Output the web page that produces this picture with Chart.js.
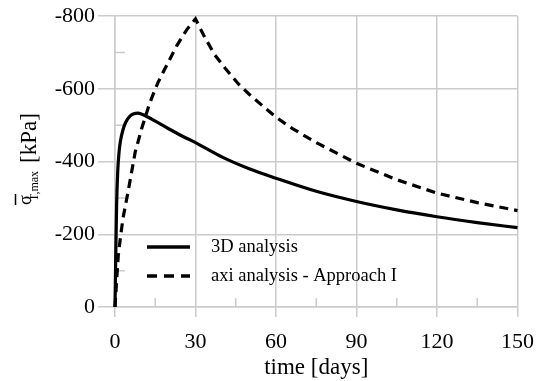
<!DOCTYPE html>
<html>
<head>
<meta charset="utf-8">
<script src="https://cdn.jsdelivr.net/npm/chart.js@4/dist/chart.umd.min.js"></script>
<style>
html,body{margin:0;padding:0;background:#fff;}
#wrap{width:544px;height:381px;position:relative;}
</style>
</head>
<body>
<div id="wrap"><canvas id="c" width="544" height="381"></canvas></div>
<script>
// ---- data ----
const time3D   = [0, 0.3, 0.6, 1.0, 1.5, 2, 3, 4, 5.5, 7, 8.5, 10, 12, 15, 20, 25, 30, 40, 50, 60, 75, 90, 105, 120, 135, 150];
const sigma3D  = [0, -150, -280, -370, -425, -455, -488, -508, -524, -531, -533, -530, -523, -511, -490, -470, -452, -412, -380, -354, -318, -290, -267, -248, -232, -218];
const timeAxi  = [0, 0.5, 1.2, 2, 3, 5, 7.5, 10, 13, 16, 20, 23, 26.7, 30, 33, 37, 41, 46, 50, 55, 60, 66, 75, 90, 105, 120, 135, 150];
const sigmaAxi = [0, -60, -140, -190, -245, -322, -425, -492, -562, -617, -675, -718, -762, -792, -748, -695, -657, -613, -585, -553, -522, -491, -452, -395, -350, -313, -287, -265];
const seriesLabels = ['3D analysis', 'axi analysis - Approach I'];
const xTicks = [0, 30, 60, 90, 120, 150];
const xMinorTicks = [15, 45, 75, 105, 135];
const yTicks = [0, -200, -400, -600, -800];
const yMinorTicks = [-100, -300, -500, -700];
const xTitle = 'time [days]';

const SERIF = '"Liberation Serif", "Times New Roman", serif';
const GRID = '#cbcbcb';

function pts(xs, ys){ return xs.map((x,i)=>({x:x, y:ys[i]})); }

const extras = {
  id: 'extras',
  beforeDatasetsDraw(chart){
    const ctx = chart.ctx, xs = chart.scales.x, ys = chart.scales.y;
    const a = chart.chartArea;
    ctx.save();
    ctx.strokeStyle = GRID;
    ctx.lineWidth = 1.5;
    ctx.beginPath();
    xMinorTicks.forEach(v=>{ const px = xs.getPixelForValue(v); ctx.moveTo(px, a.bottom); ctx.lineTo(px, a.bottom-9); });
    yMinorTicks.forEach(v=>{ const py = ys.getPixelForValue(v); ctx.moveTo(a.left, py); ctx.lineTo(a.left+10, py); });
    ctx.stroke();
    ctx.restore();
  },
  afterDraw(chart){
    const ctx = chart.ctx;
    ctx.save();
    // legend
    ctx.strokeStyle = '#000';
    ctx.lineWidth = 3.3;
    ctx.lineCap = 'butt';
    ctx.beginPath(); ctx.moveTo(147, 247); ctx.lineTo(190, 247); ctx.stroke();
    ctx.setLineDash([10, 7]);
    ctx.beginPath(); ctx.moveTo(147, 276); ctx.lineTo(190, 276); ctx.stroke();
    ctx.setLineDash([]);
    ctx.fillStyle = '#000';
    ctx.font = '18.5px ' + SERIF;
    ctx.textBaseline = 'middle';
    ctx.textAlign = 'left';
    ctx.fillText(seriesLabels[0], 211, 247);
    ctx.fillText(seriesLabels[1], 211, 276);
    const a = chart.chartArea;
    // x axis title
    ctx.textAlign = 'center';
    ctx.font = '23px ' + SERIF;
    ctx.fillText(xTitle, (a.left + a.right) / 2, 368);
    // y axis title (rotated)
    ctx.textAlign = 'left';
    ctx.rotate(-Math.PI/2);
    ctx.textBaseline = 'alphabetic';
    ctx.font = '18px ' + SERIF;
    ctx.fillText('σ', -205, 31);
    ctx.font = '12px ' + SERIF;
    ctx.fillText('T,max', -201, 38);
    ctx.font = '23px ' + SERIF;
    ctx.fillText('[kPa]', -163, 36);
    ctx.lineWidth = 1.5;
    ctx.beginPath(); ctx.moveTo(-205, 15.5); ctx.lineTo(-194, 15.5); ctx.stroke();
    ctx.restore();
  }
};

new Chart(document.getElementById('c'), {
  type: 'line',
  data: {
    datasets: [
      { label: seriesLabels[0], data: pts(time3D, sigma3D), borderColor: '#000', backgroundColor: '#000',
        borderWidth: 3.2, pointRadius: 0, cubicInterpolationMode: 'monotone', fill: false, clip: false },
      { label: seriesLabels[1], data: pts(timeAxi, sigmaAxi), borderColor: '#000', backgroundColor: '#000',
        borderWidth: 3.2, borderDash: [9, 6], pointRadius: 0, tension: 0, fill: false, clip: false }
    ]
  },
  options: {
    responsive: false,
    animation: false,
    events: [],
    layout: { padding: { top: 16, right: 26.5, bottom: 0, left: 0 } },
    plugins: { legend: { display: false }, tooltip: { enabled: false } },
    scales: {
      x: {
        type: 'linear', min: 0, max: 150,
        afterFit(s){ s.height = 74; s.paddingLeft = 0; s.paddingRight = 0; },
        afterBuildTicks(s){ s.ticks = xTicks.map(v=>({value:v})); },
        ticks: { color: '#000', font: { family: SERIF, size: 22 }, padding: 12, maxRotation: 0 },
        grid: { color: GRID, lineWidth: 1.5, tickLength: 10, tickColor: GRID },
        border: { display: true, color: GRID, width: 1.5 },
        title: { display: false }
      },
      y: {
        type: 'linear', min: -800, max: 0, reverse: true,
        afterFit(s){ s.width = 115; s.paddingTop = 0; s.paddingBottom = 0; },
        afterBuildTicks(s){ s.ticks = yTicks.map(v=>({value:v})); },
        ticks: { color: '#000', font: { family: SERIF, size: 22 }, padding: 3, callback: v => String(v) },
        grid: { color: GRID, lineWidth: 1.5, tickLength: 17, tickColor: GRID },
        border: { display: true, color: GRID, width: 1.5 },
        title: { display: false }
      }
    }
  },
  plugins: [extras]
});
</script>
</body>
</html>
